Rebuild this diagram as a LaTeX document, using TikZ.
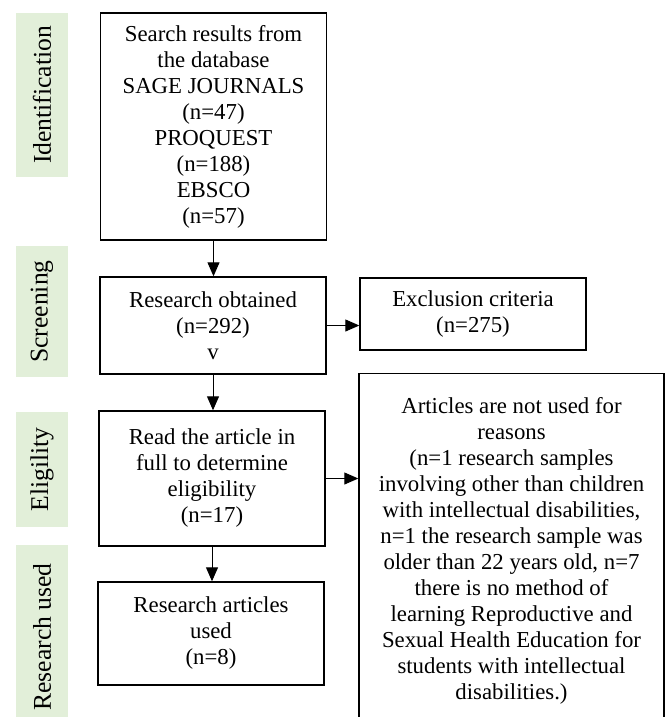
\documentclass[tikz,border=0pt]{standalone}
\usepackage{fontspec}
\setmainfont{Liberation Serif}
\usetikzlibrary{arrows.meta}
\definecolor{vertpale}{HTML}{E2EFD9}
\tikzset {box/.style={draw,line width=0.7pt,minimum width=113pt,align=center,
  inner sep=0pt,font=\fontsize{11.4}{13}\selectfont}}
\tikzset {phase/.style={fill=vertpale,rotate=90,minimum height=26pt,
  inner sep=0pt,font=\fontsize{12.8}{14}\selectfont}}
\tikzset {link/.style={line width=0.5pt,-{Triangle[length=7pt,width=6pt]}}}

\begin{document}
\begin{tikzpicture}[x=0.5pt,y=-0.5pt]
  \useasboundingbox (0,0) rectangle (665,717);
  \clip (0,0) rectangle (665,717);
  % les phases
  \node[phase,minimum width=82pt] (identification) at (42,95) {Identification};
  \node[phase,minimum width=65.5pt] (screening) at (42,311.5) {Screening};
  \node[phase,minimum width=57.5pt] (eligibility) at (42,469.5) {Eligility};
  \node[phase,minimum width=92pt] (usedphase) at (42,637) {Research used};
  % colonne principale
  \node[box,minimum height=113.5pt] (search) at (213.5,126.5)
    {Search results from\\the database\\SAGE JOURNALS\\(n=47)\\PROQUEST\\(n=188)\\EBSCO\\(n=57)};
  \node[box,minimum height=48.5pt] (obtained) at (213,325.5)
    {Research obtained\\(n=292)\\v};
  \node[box,minimum height=67.5pt] (read) at (212,478.5)
    {Read the article in\\full to determine\\eligibility\\(n=17)};
  \node[box,minimum height=51.5pt] (used) at (211,633.5)
    {Research articles\\used\\(n=8)};
  % exclusions
  \node[box,minimum height=36pt] (exclusion) at (473,314)
    {Exclusion criteria\\(n=275)};
  \node[box,minimum width=152.5pt,inner ysep=12pt,anchor=north] (reasons) at (511.5,373)
    {Articles are not used for\\reasons\\(n=1 research samples\\involving other than children\\with intellectual disabilities,\\n=1 the research sample was\\older than 22 years old, n=7\\there is no method of\\learning Reproductive and\\Sexual Health Education for\\students with intellectual\\disabilities.)};
  % les fleches
  \draw[link] (search.south) -- (search.south |- obtained.north);
  \draw[link] (obtained.south) -- (obtained.south |- read.north);
  \draw[link] (read.south) -- (read.south |- used.north);
  \draw[link] (obtained.east) -- (obtained.east -| exclusion.west);
  \draw[link] (read.east) -- (read.east -| reasons.west);
\end{tikzpicture}
\end{document}
